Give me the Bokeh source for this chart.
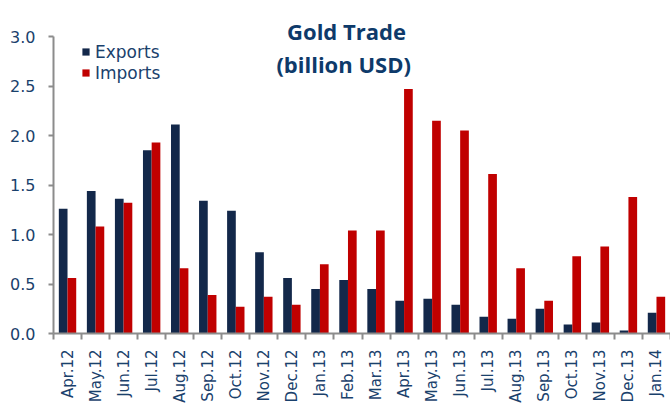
import math
import numpy as np
from bokeh.plotting import figure
from bokeh.models import (ColumnDataSource, Range1d, FixedTicker, Label, Legend,
                          LegendItem, NumeralTickFormatter)
from bokeh.transform import dodge
from bokeh.embed import file_html
from bokeh.resources import INLINE

months = ["Apr.12", "May.12", "Jun.12", "Jul.12", "Aug.12", "Sep.12", "Oct.12",
          "Nov.12", "Dec.12", "Jan.13", "Feb.13", "Mar.13", "Apr.13", "May.13",
          "Jun.13", "Jul.13", "Aug.13", "Sep.13", "Oct.13", "Nov.13", "Dec.13",
          "Jan.14"]
exports = [1.26, 1.44, 1.36, 1.85, 2.11, 1.34, 1.24, 0.82, 0.56, 0.45, 0.54,
           0.45, 0.33, 0.35, 0.29, 0.17, 0.15, 0.25, 0.09, 0.11, 0.03, 0.21]
imports = [0.56, 1.08, 1.32, 1.93, 0.66, 0.39, 0.27, 0.37, 0.29, 0.70, 1.04,
           1.04, 2.47, 2.15, 2.05, 1.61, 0.66, 0.33, 0.78, 0.88, 1.38, 0.37]
y_ticks = [0.0, 0.5, 1.0, 1.5, 2.0, 2.5, 3.0]
title_lines = ["Gold Trade", "(billion  USD)"]

NAVY = "#13284a"
RED = "#c00000"
TXT = "#1a416c"
TTL = "#0e3a6a"
AX = "#8c8c8c"

n = len(months)
idx = list(range(n))
src = ColumnDataSource(dict(x=idx, exports=exports, imports=imports))

W, H = 670, 405
left, bottom = 53, 72
frame_h = H - bottom
y_end = y_ticks[-1] * frame_h / 297.0

p = figure(width=W, height=H, output_backend="svg", toolbar_location=None,
           x_range=Range1d(-0.5, n - 0.5), y_range=Range1d(0, y_end),
           min_border_left=left, min_border_right=0, min_border_top=0,
           min_border_bottom=bottom, title=None)
p.outline_line_color = None
p.xgrid.visible = False
p.ygrid.visible = False
p.background_fill_color = "white"
p.border_fill_color = "white"

bw = 0.31
r1 = p.vbar(x=dodge("x", -bw / 2), top="exports", width=bw, source=src,
            fill_color=NAVY, line_color=None)
r2 = p.vbar(x=dodge("x", bw / 2), top="imports", width=bw, source=src,
            fill_color=RED, line_color=None)

# x axis
xa = p.xaxis[0]
xa.ticker = FixedTicker(ticks=idx, minor_ticks=[i - 0.5 for i in range(n + 1)])
xa.major_label_overrides = {i: m for i, m in zip(idx, months)}
xa.major_label_orientation = math.pi / 2
xa.major_tick_out = 0
xa.major_tick_in = 0
xa.minor_tick_out = 6
xa.minor_tick_in = 0
xa.minor_tick_line_color = AX
xa.minor_tick_line_width = 2
xa.axis_line_color = AX
xa.axis_line_width = 2
xa.major_label_standoff = 10
xa.major_label_text_font = "DejaVu Sans"
xa.major_label_text_font_size = "15px"
xa.major_label_text_color = TXT

# y axis
ya = p.yaxis[0]
ya.ticker = FixedTicker(ticks=y_ticks, minor_ticks=[])
ya.bounds = (y_ticks[0], y_ticks[-1])
ya.formatter = NumeralTickFormatter(format="0.0")
ya.axis_line_color = AX
ya.axis_line_width = 2
ya.major_tick_line_color = AX
ya.major_tick_line_width = 2
ya.major_tick_out = 5
ya.major_tick_in = 0
ya.minor_tick_line_color = None
ya.major_label_standoff = 13
ya.major_label_text_font = "DejaVu Sans"
ya.major_label_text_font_size = "16px"
ya.major_label_text_color = TXT

legend = Legend(items=[LegendItem(label="Exports", renderers=[r1]),
                       LegendItem(label="Imports", renderers=[r2])],
                location=(28, 250), margin=0, padding=0, spacing=0,
                glyph_width=9, glyph_height=9, label_height=21,
                label_standoff=5, border_line_color=None,
                background_fill_alpha=0,
                label_text_font="DejaVu Sans", label_text_font_size="17px",
                label_text_color=TXT)
p.add_layout(legend)

cx = 293
for line, yy in zip(title_lines, [303, 270]):
    p.add_layout(Label(x=cx, y=yy, x_units="screen", y_units="screen",
                       text=line, text_align="center", text_baseline="alphabetic",
                       text_font="Open Sans", text_font_style="bold",
                       text_font_size="22px", text_color=TTL))

open("out.html", "w").write(file_html(p, INLINE))
